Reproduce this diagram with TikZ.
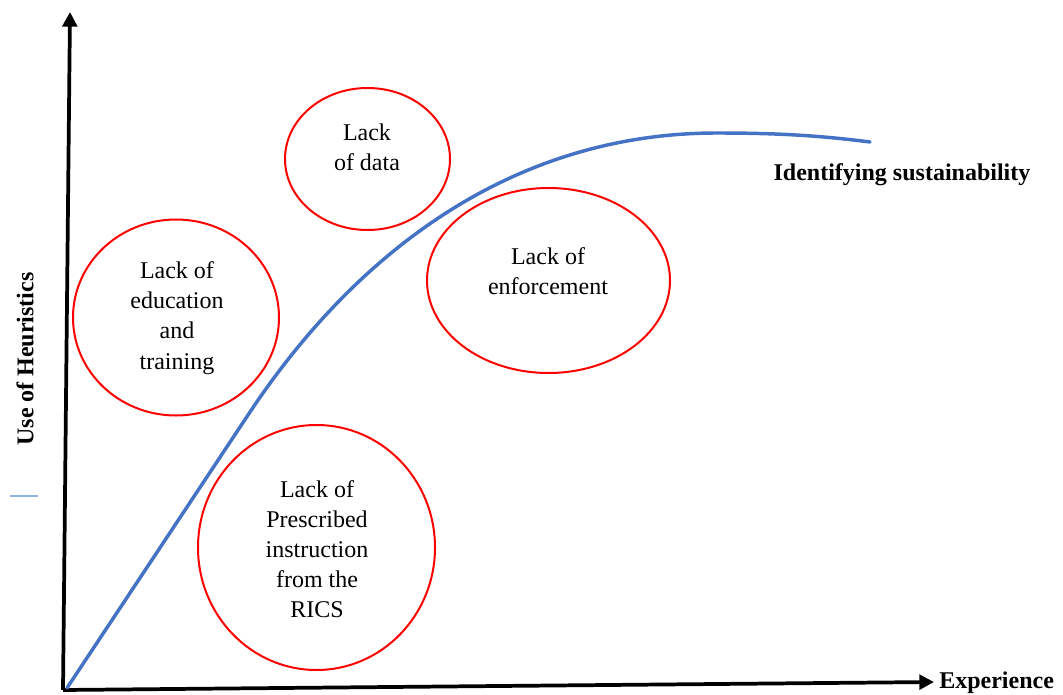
\documentclass[tikz,border=0pt]{standalone}
\usepackage{fontspec}
\setmainfont{Liberation Serif}
\usetikzlibrary{arrows.meta,shapes.geometric}
\definecolor{curveblue}{HTML}{4472C4}
\definecolor{tickblue}{HTML}{8DB4E2}
\begin{document}
\begin{tikzpicture}[x=0.75pt,y=-0.75pt,
  axisline/.style={line width=2.8pt, -{Triangle[length=11pt,width=11pt]}},
  barrier/.style={draw=red, line width=1.5pt, ellipse, inner sep=0pt},
  oval/.style 2 args={minimum width=#1*0.75pt, minimum height=#2*0.75pt},
  barriertext/.style={align=center, inner sep=0pt, font=\fontsize{18}{22.6}\selectfont},
  axislabel/.style={font=\fontsize{18}{22}\selectfont\bfseries, inner sep=0pt},
  curve/.style={draw=curveblue, line width=2.6pt, line cap=round, line join=round}
]
\useasboundingbox (0,0) rectangle (1063,695);

% axes
\coordinate (O) at (63,690);
\coordinate (ytip) at (70,12);
\coordinate (xtip) at (934,682);
\draw[axisline] (O) -- (ytip);
\draw[axisline] (O) -- (xtip);

% axis labels
\node[axislabel, anchor=west] (xlab) at (939,683) {Experience};
\node[axislabel, rotate=90] (ylab) at (25,359) {Use of Heuristics};
\coordinate (tickL) at (10,496);
\coordinate (tickR) at (38,496);
\draw[tickblue, line width=1.2pt] (tickL) -- (tickR);

% learning curve: straight rise, bend, then a gentle plateau
\coordinate (cstart) at (67,688);
\coordinate (cbend) at (250,412);
\coordinate (cpeak) at (717,133);
\coordinate (cend) at (870,142);
\draw[curve] (cstart) -- (cbend)
  .. controls (360,247) and (517,133) .. (cpeak)
  .. controls (790,133) and (830,137) .. (cend);
\node[axislabel] (goal) at (902,175) {Identifying sustainability};

% barriers
\node[barrier, oval={165}{142}] (data) at (367.5,159) {};
\node[barriertext] (datat) at (367,147) {Lack\\of data};

\node[barrier, oval={206}{196}] (edu) at (176,317.5) {};
\node[barriertext] (edut) at (177,318) {Lack of\\education\\and\\training};

\node[barrier, oval={243}{185}] (enf) at (548.5,280.5) {};
\node[barriertext] (enft) at (548,271) {Lack of\\enforcement};

\node[barrier, oval={237}{245}] (rics) at (316.5,547.5) {};
\node[barriertext] (ricst) at (317,549) {Lack of\\Prescribed\\instruction\\from the\\RICS};
\end{tikzpicture}
\end{document}
